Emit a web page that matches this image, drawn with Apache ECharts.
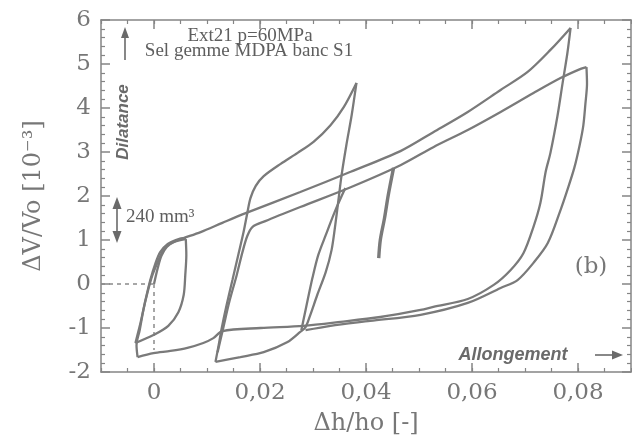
<!DOCTYPE html>
<html>
<head>
<meta charset="utf-8">
<script src="https://cdn.jsdelivr.net/npm/echarts@6/dist/echarts.min.js"></script>
<style>
  html, body { margin: 0; padding: 0; background: #fff; }
  #chart { width: 632px; height: 441px; }
</style>
</head>
<body>
<div id="chart"></div>
<script>
// Volumetric strain ΔV/Vo (10^-3) against axial strain Δh/ho,
// cyclic extension test Ext21 (p = 60 MPa), rock salt MDPA bench S1.
// Each loading or unloading branch is its own array.

const xTickValues = [0, 0.02, 0.04, 0.06, 0.08];
const yTickValues = [-2, -1, 0, 1, 2, 3, 4, 5, 6];

// first loading from the origin
const initialLoad = [
  [0, 0], [0.0007, 0.36], [0.0014, 0.64], [0.0024, 0.84], [0.0037, 0.95], [0.0059, 1.02]
];

// first small cycle
const firstReload = [
  [-0.0035, -1.34], [-0.0025, -0.86], [-0.0016, -0.36], [-0.0007, 0.09], [0.0003, 0.48],
  [0.0012, 0.73], [0.0026, 0.91], [0.0041, 1.00], [0.0055, 1.04], [0.0060, 1.02]
];
const firstUnload = [
  [0.0060, 1.02], [0.0061, 0.66], [0.0059, 0.20], [0.0056, -0.25], [0.0046, -0.64],
  [0.0027, -0.95], [-0.0001, -1.16], [-0.0035, -1.34]
];

// cycle to the 4,6 peak
const secondReload = [
  [0.0116, -1.77], [0.0122, -1.39], [0.0127, -1.05], [0.0137, -0.48], [0.0148, 0.09],
  [0.0159, 0.66], [0.0169, 1.18], [0.0176, 1.61], [0.0182, 1.95], [0.0192, 2.23],
  [0.0207, 2.45], [0.0239, 2.73], [0.0271, 2.98], [0.0301, 3.23], [0.0333, 3.61],
  [0.0358, 4.02], [0.0382, 4.57]
];
const secondUnload = [
  [0.0382, 4.57], [0.0373, 3.84], [0.0363, 3.16], [0.0354, 2.48], [0.0348, 1.91],
  [0.0342, 1.34], [0.0335, 0.77], [0.0324, 0.27], [0.0308, -0.25], [0.0295, -0.70],
  [0.0286, -0.98], [0.0276, -1.09], [0.0252, -1.32], [0.0207, -1.55], [0.0163, -1.66],
  [0.0116, -1.77]
];

// partial unloading near 0,035
const middleUnload = [
  [0.0361, 2.18], [0.0341, 1.64], [0.0324, 1.11], [0.0310, 0.66], [0.0299, 0.14],
  [0.0290, -0.36], [0.0282, -0.82], [0.0278, -1.05]
];

// short unloading near 0,045
const shortUnload = [
  [0.0452, 2.64], [0.0442, 2.02], [0.0435, 1.50], [0.0427, 1.00], [0.0424, 0.59]
];

// cycle to the 5,8 peak
const upperReload = [
  [-0.0031, -1.66], [-0.0033, -1.39], [-0.0027, -1.05], [-0.0020, -0.59], [-0.0012, -0.18],
  [-0.0003, 0.20], [0.0007, 0.50], [0.0016, 0.73], [0.0027, 0.89], [0.0046, 1.00],
  [0.0088, 1.18], [0.0129, 1.39], [0.0173, 1.61], [0.0276, 2.09], [0.0371, 2.55],
  [0.0465, 3.02], [0.0527, 3.45], [0.0592, 3.91], [0.0654, 4.41], [0.0705, 4.82],
  [0.0748, 5.32], [0.0786, 5.82]
];
const upperUnload = [
  [0.0786, 5.82], [0.0780, 5.25], [0.0771, 4.57], [0.0761, 3.80], [0.0748, 2.98],
  [0.0739, 2.55], [0.0729, 1.84], [0.0716, 1.30], [0.0697, 0.70], [0.0673, 0.32],
  [0.0641, -0.02], [0.0592, -0.34], [0.0527, -0.52], [0.0503, -0.59], [0.0427, -0.75],
  [0.0352, -0.86], [0.0282, -0.95], [0.0201, -1.00], [0.0129, -1.07], [0.0112, -1.23],
  [0.0093, -1.34], [0.0063, -1.45], [0.0031, -1.52], [-0.0001, -1.57], [-0.0031, -1.66]
];

// cycle to the 4,9 peak at the largest elongation
const lowerReload = [
  [0.0120, -1.55], [0.0131, -0.98], [0.0142, -0.41], [0.0156, 0.20], [0.0167, 0.73],
  [0.0176, 1.09], [0.0186, 1.30], [0.0210, 1.43], [0.0276, 1.75], [0.0371, 2.20],
  [0.0465, 2.70], [0.0527, 3.11], [0.0592, 3.50], [0.0654, 3.91], [0.0716, 4.34],
  [0.0767, 4.68], [0.0805, 4.89], [0.0816, 4.93]
];
const lowerUnload = [
  [0.0816, 4.93], [0.0817, 4.55], [0.0814, 4.10], [0.0810, 3.60], [0.0803, 3.15],
  [0.0793, 2.64], [0.0780, 2.14], [0.0767, 1.68], [0.0743, 0.93], [0.0716, 0.48],
  [0.0686, 0.09], [0.0654, -0.09], [0.0592, -0.43], [0.0503, -0.70], [0.0408, -0.84],
  [0.0333, -0.95], [0.0286, -1.05]
];

// dotted guides to the origin
const originGuideH = [[-0.01, 0], [0, 0]];
const originGuideV = [[0, 0], [0, -1.5]];

const AXIS = '#858585';
const LABEL = '#777777';
const CURVE = '#7a7a7a';
const SERIF = '"DejaVu Serif", serif';

const X_MIN = -0.01, X_MAX = 0.09, Y_MIN = -2, Y_MAX = 6;

function xMajor(pos, withLabels) {
  return {
    type: 'value', position: pos, min: X_MIN, max: X_MAX,
    axisLine: { show: true, onZero: false, lineStyle: { color: AXIS, width: 1.5 } },
    axisTick: { show: true, inside: true, length: 9, customValues: xTickValues,
                lineStyle: { color: AXIS, width: 1.5 } },
    axisLabel: withLabels ? {
      show: true, customValues: xTickValues, margin: 10,
      fontFamily: SERIF, fontSize: 23, color: LABEL,
      formatter: v => String(v).replace('.', ',')
    } : { show: false },
    splitLine: { show: false },
    name: withLabels ? 'Δh/ho [-]' : '',
    nameLocation: 'middle', nameGap: 40,
    nameTextStyle: { fontFamily: SERIF, fontSize: 24, color: LABEL }
  };
}
function xMinor(pos) {
  return {
    type: 'value', position: pos, min: X_MIN, max: X_MAX, interval: 0.005,
    axisLine: { show: false, onZero: false },
    axisTick: { show: true, inside: true, length: 4, lineStyle: { color: AXIS, width: 1.2 } },
    axisLabel: { show: false }, splitLine: { show: false }
  };
}
function yAxisDef(pos, withLabels) {
  return {
    type: 'value', position: pos, min: Y_MIN, max: Y_MAX, interval: 1,
    axisLine: { show: true, onZero: false, lineStyle: { color: AXIS, width: 1.5 } },
    axisTick: { show: true, inside: true, length: 9, lineStyle: { color: AXIS, width: 1.5 } },
    minorTick: { show: true, splitNumber: 5, length: 4, lineStyle: { color: AXIS, width: 1.2 } },
    axisLabel: withLabels ? {
      show: true, margin: 10, fontFamily: SERIF, fontSize: 23, color: LABEL,
      formatter: v => String(v)
    } : { show: false },
    splitLine: { show: false },
    name: withLabels ? 'ΔV/Vo [10⁻³]' : '',
    nameLocation: 'middle', nameGap: 55,
    nameTextStyle: { fontFamily: SERIF, fontSize: 24, color: LABEL }
  };
}

function curve(data, width) {
  return {
    type: 'line', data: data, symbol: 'none', silent: true, z: 3, smooth: 0.3,
    lineStyle: { color: CURVE, width: width || 2.3 }
  };
}
function guide(data) {
  return {
    type: 'line', data: data, symbol: 'none', silent: true, z: 2,
    lineStyle: { color: '#8a8a8a', width: 1.5, type: [4, 4] }
  };
}

const chart = echarts.init(document.getElementById('chart'), null, { renderer: 'canvas' });
chart.setOption({
  animation: false,
  backgroundColor: '#ffffff',
  grid: { left: 101, right: 1, top: 20, bottom: 69, containLabel: false },
  xAxis: [xMajor('bottom', true), xMinor('bottom'), xMajor('top', false), xMinor('top')],
  yAxis: [yAxisDef('left', true), yAxisDef('right', false)],
  series: [
    guide(originGuideH), guide(originGuideV),
    curve(initialLoad), curve(firstReload), curve(firstUnload),
    curve(upperReload), curve(upperUnload),
    curve(secondReload), curve(secondUnload),
    curve(lowerReload), curve(lowerUnload),
    curve(middleUnload), curve(shortUnload, 3.4)
  ],
  graphic: [
    // test label
    { type: 'text', x: 250, y: 36, style: { text: 'Ext21 p=60MPa', fill: '#5e5e5e',
      font: '19px "Liberation Serif", serif', align: 'center', verticalAlign: 'middle' } },
    { type: 'text', x: 249, y: 51, style: { text: 'Sel gemme MDPA banc S1', fill: '#5e5e5e',
      font: '19px "Liberation Serif", serif', align: 'center', verticalAlign: 'middle' } },
    // dilatancy direction
    { type: 'line', shape: { x1: 125, y1: 60, x2: 125, y2: 34 }, style: { stroke: '#6a6a6a', lineWidth: 1.6 } },
    { type: 'polygon', shape: { points: [[125, 27], [121, 38], [129, 38]] }, style: { fill: '#6a6a6a' } },
    { type: 'text', x: 123, y: 122, rotation: Math.PI / 2,
      style: { text: 'Dilatance', fill: '#6a6a6a', font: 'italic bold 17px "Liberation Sans", Arial, sans-serif',
               align: 'center', verticalAlign: 'middle' } },
    // 240 mm3 scale bar
    { type: 'line', shape: { x1: 117, y1: 205, x2: 117, y2: 235 }, style: { stroke: '#6a6a6a', lineWidth: 1.6 } },
    { type: 'polygon', shape: { points: [[117, 197], [112.5, 209], [121.5, 209]] }, style: { fill: '#6a6a6a' } },
    { type: 'polygon', shape: { points: [[117, 243], [112.5, 231], [121.5, 231]] }, style: { fill: '#6a6a6a' } },
    { type: 'text', x: 126, y: 217, style: { text: '240 mm³', fill: '#5e5e5e',
      font: '19px "Liberation Serif", serif', align: 'left', verticalAlign: 'middle' } },
    // panel tag
    { type: 'text', x: 591, y: 267, style: { text: '(b)', fill: LABEL,
      font: '23px "DejaVu Serif", serif', align: 'center', verticalAlign: 'middle' } },
    // elongation direction
    { type: 'text', x: 513, y: 355, style: { text: 'Allongement', fill: '#6a6a6a',
      font: 'italic bold 18px "Liberation Sans", Arial, sans-serif', align: 'center', verticalAlign: 'middle' } },
    { type: 'line', shape: { x1: 595, y1: 355, x2: 615, y2: 355 }, style: { stroke: '#6a6a6a', lineWidth: 1.6 } },
    { type: 'polygon', shape: { points: [[623, 355], [612, 350.5], [612, 359.5]] }, style: { fill: '#6a6a6a' } }
  ]
});
</script>
</body>
</html>
